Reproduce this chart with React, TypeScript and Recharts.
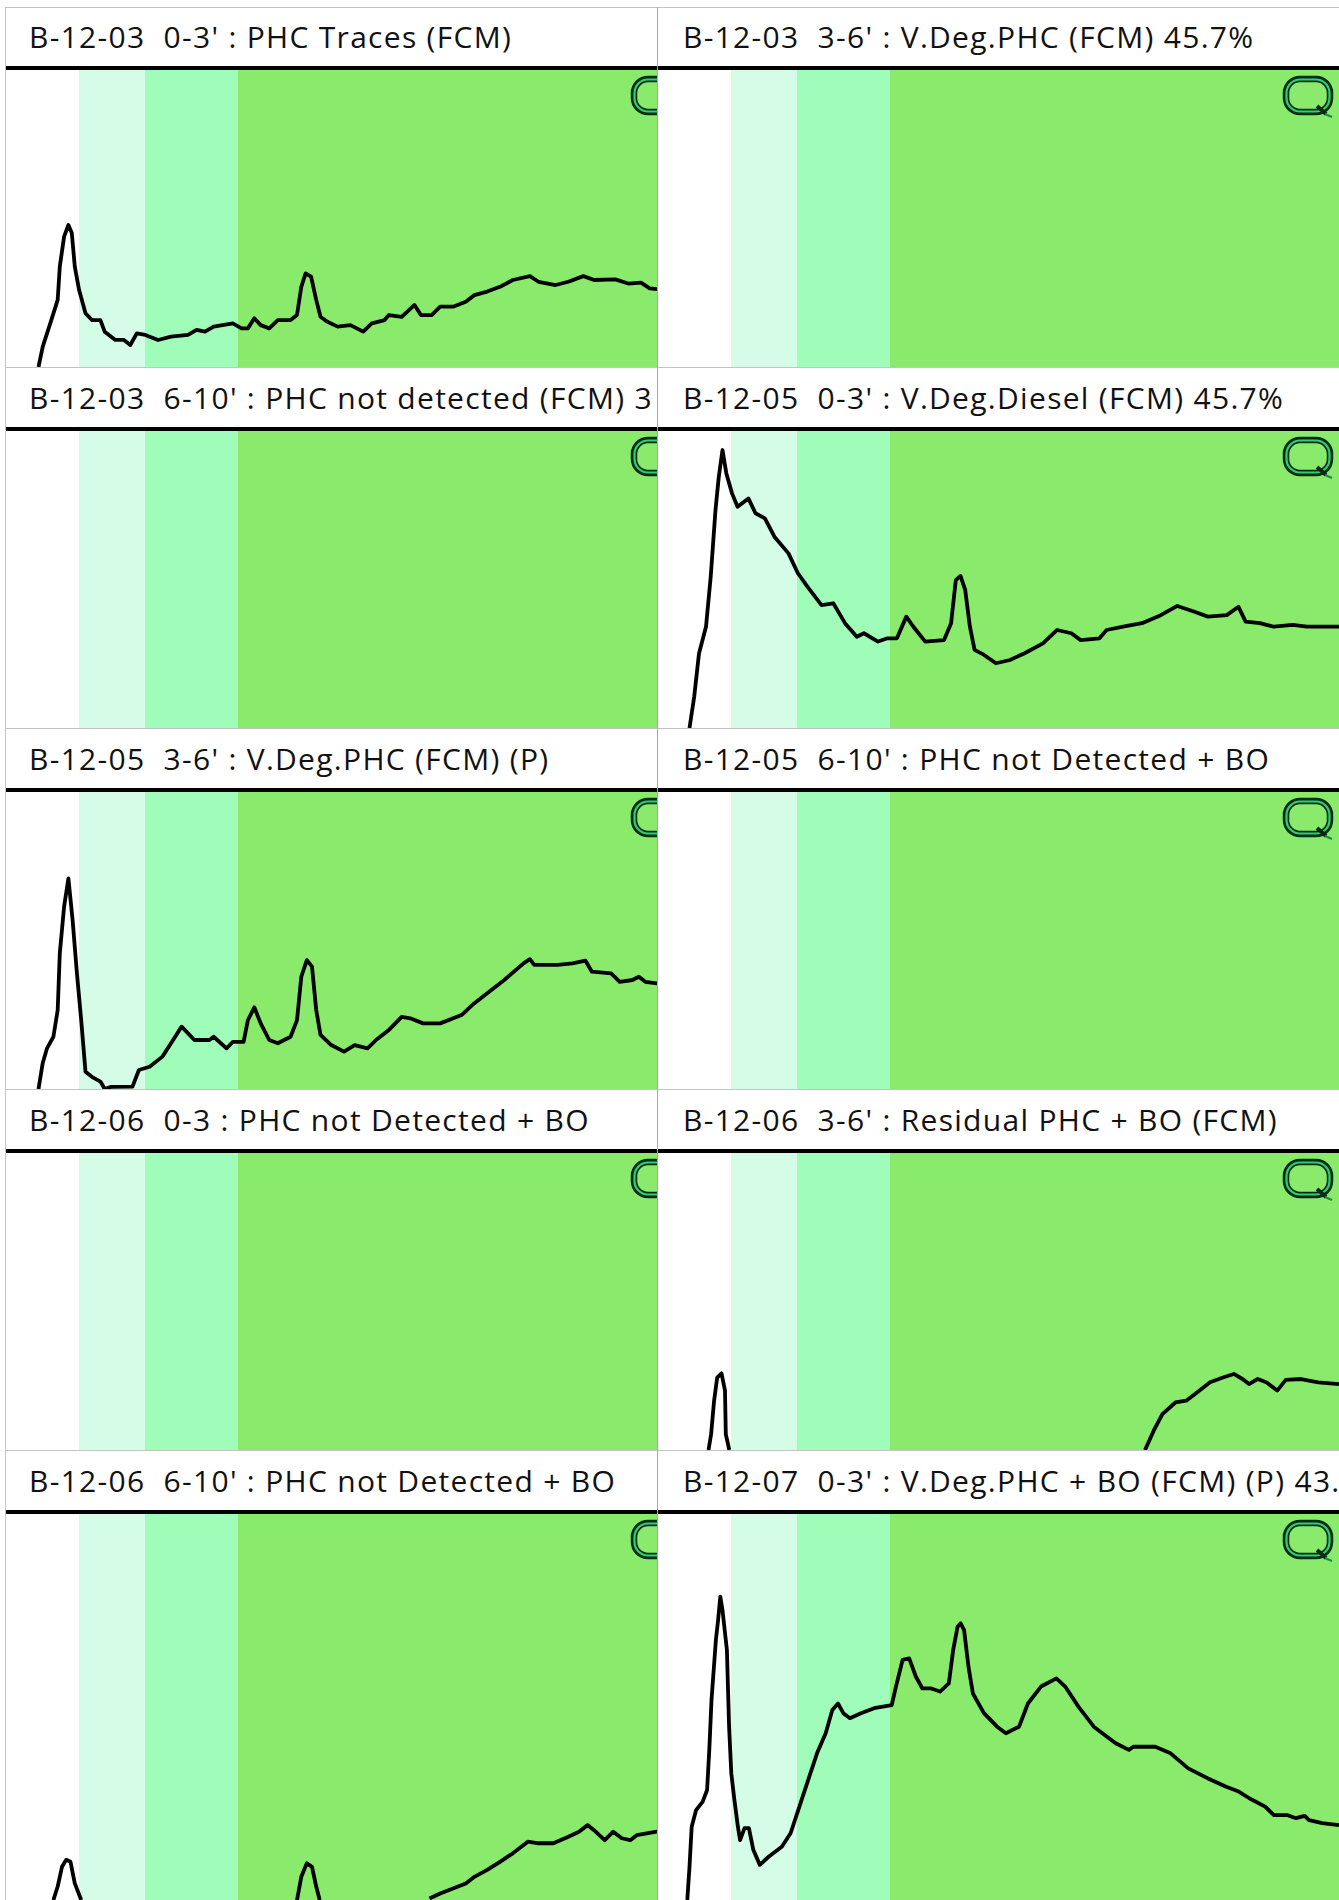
import React from "react";
import { ComposedChart, Line, XAxis, YAxis, ReferenceArea } from "recharts";

// scan axis runs 0..RUN_END across one panel, response in % of full scale
const RUN_END = 682;
const BAND_EDGES = [0, 74, 140, 233, RUN_END];
const BAND_COLORS = ["#ffffff", "#d4fce6", "#a0fcb9", "#89ea6b"];

const TITLES = [
  "B-12-03  0-3' : PHC Traces (FCM)",
  "B-12-03  3-6' : V.Deg.PHC (FCM) 45.7%",
  "B-12-03  6-10' : PHC not detected (FCM) 3",
  "B-12-05  0-3' : V.Deg.Diesel (FCM) 45.7%",
  "B-12-05  3-6' : V.Deg.PHC (FCM) (P)",
  "B-12-05  6-10' : PHC not Detected + BO",
  "B-12-06  0-3 : PHC not Detected + BO",
  "B-12-06  3-6' : Residual PHC + BO (FCM)",
  "B-12-06  6-10' : PHC not Detected + BO",
  "B-12-07  0-3' : V.Deg.PHC + BO (FCM) (P) 43.",
];

type Pt = [number, number | null];

const B1203_0_3: Pt[] = [
  [33.5, 0], [37.7, 6.8], [46.3, 15.8], [52.7, 22.6], [54.8, 33.8], [59.1, 43.9], [63.4, 47.8],
  [66.8, 45.1], [69.8, 33.8], [74.1, 25.9], [80.5, 18.1], [86.9, 15.8], [95.4, 15.8], [99.7, 11.9],
  [110.4, 9.1], [118.9, 9.1], [125.3, 7.4], [131.8, 11.3], [140.3, 10.8], [153.1, 9.1], [166, 10.2],
  [183, 10.8], [191.6, 12.5], [200, 11.9], [208.7, 13.6], [227.9, 14.7], [236.5, 13], [242.9, 13],
  [249.3, 16.4], [255.7, 14.1], [264.2, 13], [272.8, 15.8], [285.6, 15.8], [292, 17.5], [296.3, 27],
  [300.6, 31.5], [306.1, 30.4], [311.2, 22.6], [315.5, 16.9], [321.9, 15.3], [332.6, 13.6],
  [345.4, 14.1], [358.2, 11.9], [366.8, 14.7], [379.6, 15.8], [383.9, 17.5], [396.7, 16.9],
  [409.5, 20.9], [415.9, 17.5], [426.6, 17.5], [435.2, 20.3], [448, 20.3], [460.8, 22], [469.4, 24.2],
  [482.2, 25.4], [495, 27], [507.8, 29.3], [524.9, 30.6], [533.5, 28.7], [550.6, 27.6], [563.4, 28.7],
  [578.3, 30.6], [589, 29.3], [610.4, 29.5], [623.2, 28.1], [636, 28.4], [644.6, 26.5], [651.8, 26.2],
  [682, 26],
];

const B1205_0_3: Pt[] = [
  [32.5, 0], [37.2, 10.5], [42, 25.1], [49, 34.1], [53.7, 50.9], [58.5, 73.4], [61.8, 84.6],
  [65.5, 93.6], [69.3, 85.8], [75, 79], [80.6, 74.5], [91.4, 77.3], [98.5, 72.3], [107.9, 70.6],
  [117.4, 64.4], [131.5, 58.8], [140.9, 52.1], [150.4, 47.6], [164.5, 41.4], [176.3, 42],
  [188, 35.3], [199.8, 30.7], [206.9, 31.9], [221, 29.1], [230.5, 30.2], [239.9, 30.2],
  [249.3, 37.5], [256.4, 34.1], [268.2, 29.1], [287, 29.6], [294.1, 35.3], [298.8, 49.8],
  [303.5, 51.2], [308.2, 46.5], [312.9, 34.1], [317.6, 26.3], [327.1, 24.6], [338.9, 21.8],
  [353, 22.9], [367.1, 25.1], [386, 28.5], [400.1, 33], [414.3, 31.9], [423.7, 29.6], [442.5, 30.2],
  [449.6, 33], [466.1, 34.1], [485, 35.3], [503.8, 38], [520.3, 41.1], [536.8, 39.2], [550.9, 37.5],
  [569.8, 38], [581.5, 40.8], [588.6, 35.8], [602.8, 35.3], [616.9, 34.1], [635.7, 34.7],
  [649.9, 34.1], [664, 34.1], [682, 34.1],
];

const B1205_3_6: Pt[] = [
  [33.5, 0], [37.7, 8.7], [42, 13.7], [48.4, 17.6], [52.7, 26.6], [54.8, 45.7], [59.1, 61.4],
  [63.4, 70.9], [67.6, 56.9], [71.9, 39], [76.2, 23.2], [80.5, 5.8], [86.9, 4.1], [95.4, 2.5],
  [99.7, 0], [106.1, 0.7], [127.5, 0.8], [133.9, 6.4], [144.6, 7.5], [157.4, 10.9], [168.1, 16.5],
  [176.6, 21], [189.4, 16.5], [204.4, 16.5], [208.7, 17.6], [221.5, 13.7], [227.9, 15.9],
  [238.6, 15.9], [242.9, 23.2], [249.3, 27.5], [255.7, 22.1], [264.2, 16.5], [272.8, 15.4],
  [285.6, 17.6], [292, 23.2], [296.3, 37.8], [301.8, 43.4], [307, 41.2], [311.2, 26.6],
  [315.5, 18.2], [326.2, 14.8], [339, 12.6], [349.7, 14.8], [362.5, 13.7], [371, 16.5],
  [383.9, 19.9], [396.7, 24.3], [405.3, 23.8], [418.1, 22.1], [435.2, 22.1], [456.5, 24.9],
  [469.4, 28.9], [482.2, 32.2], [499.3, 36.7], [518.5, 42.3], [524.9, 43.7], [529.2, 41.8],
  [552.7, 41.8], [567.6, 42.3], [580.5, 43.2], [586.9, 39.5], [606.1, 38.9], [614.7, 36.1],
  [627.5, 36.7], [633.9, 37.8], [640.3, 36.1], [651.8, 35.6], [682, 35.6],
];

const B1206_3_6: Pt[] = [
  [51.5, 0], [54.1, 5.3], [57.1, 16.6], [60.2, 24.4], [64.5, 25.8], [68, 20], [68.8, 5.3],
  [72.3, 0], [80, null], [488, 0], [496.7, 6.5], [505.4, 12.1], [518.4, 16], [529.2, 16.6],
  [540, 19.4], [553, 22.8], [566, 24.4], [576.8, 25.6], [585.5, 23.9], [592, 22.2], [600.7, 23.9],
  [609.3, 22.8], [620.2, 20], [628.8, 23.6], [644, 23.9], [661.3, 22.8], [682, 22.2],
];

const B1206_6_10: Pt[] = [
  [48.4, 0], [52.7, 3.5], [57, 8.6], [61.2, 10.4], [65.5, 9.9], [69.8, 4.3], [76.2, 0], [80, null],
  [292, 0], [296.3, 6], [301.8, 9.5], [307, 8.6], [311.2, 3.5], [314.7, 0], [320, null],
  [424.5, 0.4], [435.2, 1.7], [448, 3], [460.8, 4.3], [469.4, 6], [482.2, 7.8], [495, 9.9],
  [507.8, 12.1], [522.8, 15.1], [533.5, 14.7], [548.4, 14.7], [563.4, 16.4], [574, 17.7],
  [582.6, 19.4], [589, 18.1], [599.7, 15.5], [608.2, 17.7], [616.8, 16], [625.3, 15.5],
  [631.7, 16.8], [651.8, 17.7], [682, 17.7],
];

const B1207_0_3: Pt[] = [
  [30.3, 0], [32.5, 8.6], [34.7, 19], [39.1, 23.3], [45.7, 25.5], [50.1, 28.5], [52.3, 38.9],
  [54.5, 51.8], [58.9, 67.4], [61.1, 72.5], [63.3, 78.6], [65.5, 75.1], [69.9, 64.8], [72.1, 44.9],
  [74.3, 32.8], [77.4, 25.9], [80.9, 19], [83.1, 15.5], [87.5, 18.6], [91.9, 18.6], [96.3, 13],
  [102.8, 9.1], [111.6, 11.2], [124.8, 13.8], [133.6, 17.3], [142.4, 24.2], [151.2, 31.1],
  [160, 38], [168.7, 43.2], [175.3, 49.2], [181, 50.9], [186.3, 48.4], [192.9, 47.1], [203.9, 48.4],
  [217.1, 49.7], [234.7, 50.5], [239, 55.3], [245.6, 62.2], [252.2, 62.6], [258.8, 57.9],
  [265.4, 54.8], [274.2, 54.8], [283, 54], [291.8, 56.1], [296.2, 64.8], [300.6, 70.8],
  [303.6, 71.7], [307.1, 69.9], [311.5, 60.4], [315.9, 53.5], [326.9, 48.4], [340.1, 44.9],
  [348.9, 43.2], [362.1, 44.9], [370.9, 50.9], [384, 55.3], [399.4, 57.4], [408.2, 55.3],
  [421.4, 50.1], [436.8, 44.9], [450, 42.3], [458.7, 40.6], [471.9, 38.9], [476.3, 39.7],
  [498.3, 39.7], [513.6, 38], [531.2, 34.1], [551, 31.5], [568.6, 29.4], [581.7, 28.1],
  [592.7, 26.3], [608.1, 24.2], [616.9, 22], [630.1, 22], [638.9, 21.2], [647.7, 21.8],
  [652, 20.7], [665.2, 19.9], [682, 19.4],
];

const TRACES: (Pt[] | null)[] = [
  B1203_0_3, null,
  null, B1205_0_3,
  B1205_3_6, null,
  null, B1206_3_6,
  B1206_6_10, B1207_0_3,
];

const PANEL_W = 682;
const ROW_PITCH = 361;
const TOP = 7;
const HEADER_H = 59;
const RULE_H = 4;
const CHART_H = [297, 297, 297, 297, 386];
const GRID = "#c4c4c4";

function QLogo() {
  return (
    <svg width={58} height={48} style={{ position: "absolute", left: 624, top: 4 }}>
      <rect x={5} y={5} width={44} height={33} rx={14} fill="none" stroke="#062a14" strokeWidth={6.5} />
      <rect x={5.5} y={5.5} width={43} height={32} rx={13.5} fill="none" stroke="#2fcf74" strokeWidth={2.2} />
      <path d="M36 32 L45 40" stroke="#062a14" strokeWidth={4} fill="none" />
      <path d="M44 40 L51 43" stroke="#1c8a4a" strokeWidth={2} fill="none" />
    </svg>
  );
}

function Panel({ idx, height }: { idx: number; height: number }) {
  const trace = TRACES[idx];
  const data = trace
    ? trace.map(([x, y]) => ({ x, y }))
    : BAND_EDGES.map((x) => ({ x, y: null }));
  return (
    <div style={{ position: "relative", width: PANEL_W }}>
      <div
        style={{
          height: HEADER_H,
          background: "#fff",
          whiteSpace: "pre",
          fontSize: 30,
          letterSpacing: 1.3,
          lineHeight: HEADER_H + "px",
          paddingLeft: idx % 2 === 0 ? 24 : 26,
          paddingTop: 0,
          boxSizing: "border-box",
          color: "#111",
          overflow: "hidden",
        }}
      >
        {TITLES[idx]}
      </div>
      <div style={{ height: RULE_H, background: "#000" }} />
      <div style={{ position: "relative", height }}>
        <ComposedChart width={PANEL_W} height={height} data={data} margin={{ top: 0, right: 0, bottom: 0, left: 0 }}>
          <XAxis type="number" dataKey="x" domain={[0, RUN_END]} hide allowDataOverflow />
          <YAxis type="number" domain={[0, 100]} hide allowDataOverflow />
          {BAND_COLORS.map((c, i) => (
            <ReferenceArea
              key={i}
              x1={BAND_EDGES[i]}
              x2={BAND_EDGES[i + 1]}
              fill={c}
              fillOpacity={1}
              stroke="none"
            />
          ))}
          {trace && (
            <Line
              type="linear"
              dataKey="y"
              stroke="#000"
              strokeWidth={3.8}
              strokeLinejoin="round"
              dot={false}
              connectNulls={false}
              isAnimationActive={false}
            />
          )}
        </ComposedChart>
        <QLogo />
      </div>
    </div>
  );
}

export default function App() {
  const rows = [0, 1, 2, 3, 4];
  return (
    <div
      style={{
        position: "absolute",
        left: 0,
        top: 0,
        width: 1339,
        height: 1900,
        overflow: "hidden",
        background: "#fff",
        fontFamily: "'Open Sans', Lato, sans-serif",
      }}
    >
      {rows.map((r) => (
        <React.Fragment key={r}>
          <div style={{ position: "absolute", left: 5, top: TOP + r * ROW_PITCH, width: 652, overflow: "hidden" }}>
            <Panel idx={r * 2} height={CHART_H[r]} />
          </div>
          <div style={{ position: "absolute", left: 657, top: TOP + r * ROW_PITCH, width: PANEL_W, overflow: "hidden" }}>
            <Panel idx={r * 2 + 1} height={CHART_H[r]} />
          </div>
          <div
            style={{
              position: "absolute",
              left: 5,
              top: TOP + r * ROW_PITCH + HEADER_H + RULE_H + CHART_H[r],
              width: 1334,
              height: 1,
              background: GRID,
            }}
          />
        </React.Fragment>
      ))}
      <div style={{ position: "absolute", left: 5, top: TOP, width: 1334, height: 1, background: GRID }} />
      <div style={{ position: "absolute", left: 5, top: TOP, width: 1, height: 1900, background: GRID }} />
      <div style={{ position: "absolute", left: 657, top: TOP, width: 1, height: 1900, background: "#a8a8a8" }} />
    </div>
  );
}
